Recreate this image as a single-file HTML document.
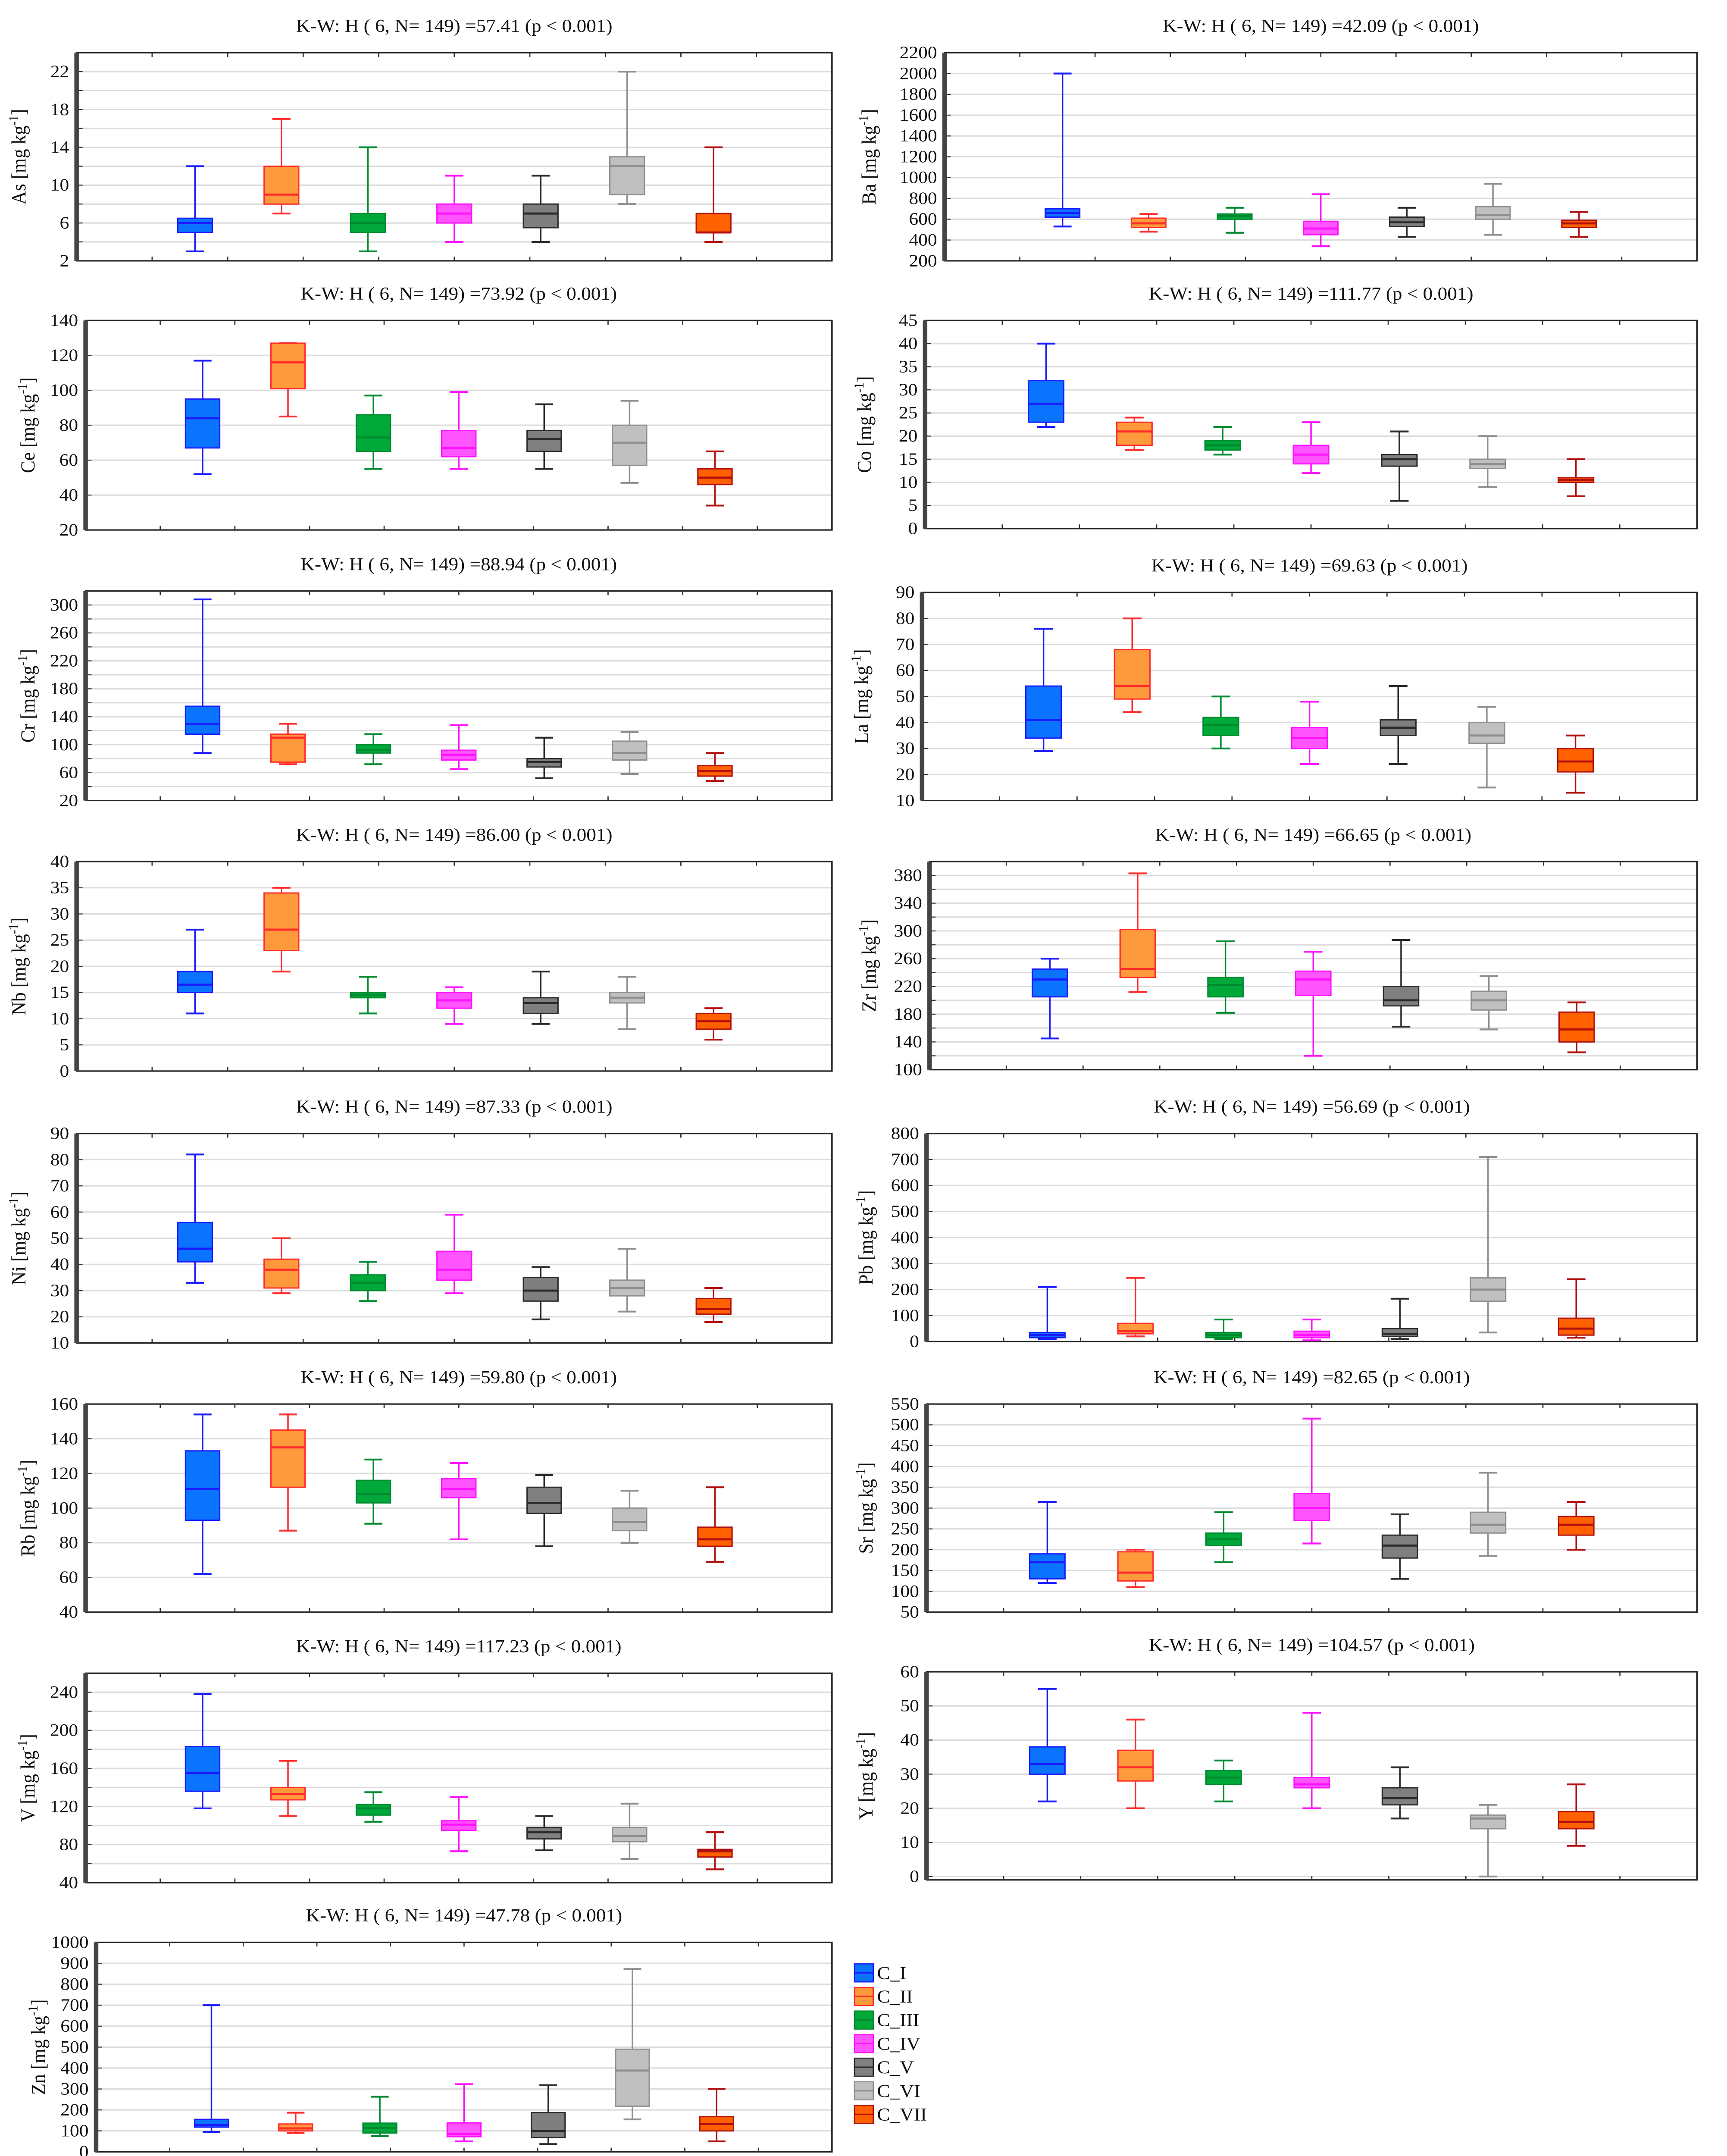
<!DOCTYPE html>
<html><head><meta charset="utf-8"><title>Kruskal-Wallis box plots</title>
<style>
html,body{margin:0;padding:0;background:#fff;width:100vw;height:100vh;overflow:hidden;}
svg{display:block;width:100vw;height:100vh;}
text{font-family:"Liberation Serif",serif;fill:#111;}
</style></head>
<body>
<svg id="fig" xmlns="http://www.w3.org/2000/svg" viewBox="0 0 1150 1554" preserveAspectRatio="none"></svg>
<script>
// ---- data ----
const categories = ["C_I","C_II","C_III","C_IV","C_V","C_VI","C_VII"];
// each entry: [min, q1, median, q3, max]
const asVals = [[3,5,6,6.5,12],[7,8,9,12,17],[3,5,6,7,14],[4,6,7,8,11],[4,5.5,7,8,11],[8,9,12,13,22],[4,5,5,7,14]];
const baVals = [[530,620,660,700,2000],[480,520,560,610,650],[470,600,630,650,710],[340,450,510,580,840],[430,530,570,620,710],[450,600,640,720,940],[430,520,560,590,670]];
const ceVals = [[52,67,84,95,117],[85,101,116,127,127],[55,65,73,86,97],[55,62,67,77,99],[55,65,72,77,92],[47,57,70,80,94],[34,46,50,55,65]];
const coVals = [[22,23,27,32,40],[17,18,21,23,24],[16,17,18,19,22],[12,14,16,18,23],[6,13.5,15,16,21],[9,13,14,15,20],[7,10,10.5,11,15]];
const crVals = [[88,115,130,155,308],[72,75,110,115,130],[72,88,92,100,115],[65,78,85,92,128],[52,68,75,80,110],[58,78,88,105,118],[48,55,62,70,88]];
const laVals = [[29,34,41,54,76],[44,49,54,68,80],[30,35,39,42,50],[24,30,34,38,48],[24,35,38,41,54],[15,32,35,40,46],[13,21,25,30,35]];
const nbVals = [[11,15,16.5,19,27],[19,23,27,34,35],[11,14,14.5,15,18],[9,12,13.5,15,16],[9,11,13,14,19],[8,13,14,15,18],[6,8,9.5,11,12]];
const zrVals = [[145,205,230,245,260],[212,233,245,302,383],[182,205,222,233,285],[120,207,230,242,270],[162,192,200,220,287],[158,186,200,213,235],[125,140,158,183,197]];
const niVals = [[33,41,46,56,82],[29,31,38,42,50],[26,30,33,36,41],[29,34,38,45,59],[19,26,30,35,39],[22,28,31,34,46],[18,21,23,27,31]];
const pbVals = [[10,15,25,35,210],[20,30,40,70,245],[10,15,25,35,85],[5,15,25,40,85],[10,20,30,50,165],[35,155,200,245,710],[15,25,50,90,240]];
const rbVals = [[62,93,111,133,154],[87,112,135,145,154],[91,103,108,116,128],[82,106,111,117,126],[78,97,103,112,119],[80,87,92,100,110],[69,78,82,89,112]];
const srVals = [[120,130,170,190,315],[110,125,145,195,200],[170,210,225,240,290],[215,270,300,335,515],[130,180,210,235,285],[185,240,260,290,385],[200,235,260,280,315]];
const vVals  = [[118,136,155,183,238],[110,127,133,140,168],[104,111,118,122,135],[73,95,101,105,130],[74,86,93,98,110],[65,83,89,98,123],[54,67,73,75,93]];
const yVals  = [[22,30,33,38,55],[20,28,32,37,46],[22,27,29,31,34],[20,26,27,29,48],[17,21,23,26,32],[0,14,17,18,21],[9,14,16,19,27]];
const znVals = [[95,118,128,155,700],[90,100,112,133,187],[75,90,113,137,263],[50,72,85,138,323],[37,68,100,187,318],[155,218,388,490,873],[50,100,133,168,300]];
const elements = ["As","Ba","Ce","Co","Cr","La","Nb","Zr","Ni","Pb","Rb","Sr","V","Y","Zn"];
const hStats = ["57.41","42.09","73.92","111.77","88.94","69.63","86.00","66.65","87.33","56.69","59.80","82.65","117.23","104.57","47.78"];
const allVals = [asVals,baVals,ceVals,coVals,crVals,laVals,nbVals,zrVals,niVals,pbVals,rbVals,srVals,vVals,yVals,znVals];
// axis ranges
const axMin = [2,200,20,0,20,10,0,100,10,0,40,50,40,-1,0];
const axMax = [24,2200,140,45,320,90,40,400,90,800,160,550,260,60,1000];
const gridStep = [2,200,20,5,20,10,5,20,10,100,20,50,20,10,100];
const labelStart = [2,200,20,0,20,10,0,100,10,0,40,50,40,0,0];
const labelStep = [4,200,20,5,40,10,5,40,10,100,20,50,40,10,100];
</script>
<script>
const svg = document.getElementById('fig');
const NS = 'http://www.w3.org/2000/svg';
function mk(tag, attrs, parent){const e=document.createElementNS(NS,tag);for(const k in attrs)e.setAttribute(k,attrs[k]);(parent||svg).appendChild(e);return e;}
const fills = ['#0a74ff','#ff9a3c','#00a83a','#ff55ff','#7f7f7f','#c0c0c0','#ff6000'];
const lines = ['#1a1aff','#ff2a2a','#008a30','#ff10ff','#2a2a2a','#8f8f8f','#b01010'];
const frames = [
 [51,554,38,188],[629,1130,38,188],
 [57,554,231,382],[616,1130,231,381],
 [57,554,426,577],[614,1130,427,577],
 [51,554,621,772],[619,1130,621,771],
 [51,554,817,968],[617,1130,817,967],
 [57,554,1012,1162],[617,1130,1012,1162],
 [57,554,1206,1357],[617,1130,1205,1355],
 [64,554,1400,1551]
];
function fmt(v){return String(Math.round(v*1000)/1000);}
elements.forEach((el,pi)=>{
  const [x0,x1,y0,y1]=frames[pi];
  const lo=axMin[pi], hi=axMax[pi];
  const g = mk('g',{});
  
  
  const yS = v => y1 - (v-lo)/(hi-lo)*(y1-y0);
  const W = x1-x0, sp = W/8.74;
  const xS = i => x0 + sp*1.37 + i*sp;
  const t = mk('text',{x:(x0+x1)/2,y:y0-15,'text-anchor':'middle','font-size':13},g);
  t.textContent = 'K-W: H ( 6, N= 149) ='+hStats[pi]+' (p < 0.001)';
  
  
  const eps=1e-9;
  for(let v=Math.ceil((lo+eps)/gridStep[pi])*gridStep[pi]; v<hi-eps; v+=gridStep[pi]){
    const gl = mk('line',{x1:x0,x2:x1,y1:yS(v),y2:yS(v),stroke:'#dcdcdc','stroke-width':1},g);
    
    
    mk('line',{x1:x0,x2:x0+4,y1:yS(v),y2:yS(v),stroke:'#333','stroke-width':0.7},g);
  }
  for(let v=labelStart[pi]; v<=hi+eps; v+=labelStep[pi]){
    const yl = mk('text',{x:x0-5,y:yS(v)+4,'text-anchor':'end','font-size':12.5},g);
    yl.textContent = fmt(v);
    
    
  }
  const fr = mk('rect',{x:x0,y:y0,width:W,height:y1-y0,fill:'none',stroke:'#222','stroke-width':1},g);
  
  
  mk('line',{x1:x0,x2:x0,y1:y0,y2:y1,stroke:'#444','stroke-width':3},g);
  for(let k=1;k<10;k++){
    const xt = x0 + k*W/10;
    mk('line',{x1:xt,x2:xt,y1:y0,y2:y0+3,stroke:'#333','stroke-width':0.8},g);
    mk('line',{x1:xt,x2:xt,y1:y1,y2:y1-3,stroke:'#333','stroke-width':0.8},g);
  }
  const lx = x0 - (pi%2===1 && pi<14 ? (x0-560>60?46:36) : 34);
  const yt = mk('text',{transform:`translate(${lx},${(y0+y1)/2}) rotate(-90)`,'text-anchor':'middle','font-size':13.5},g);
  
  
  const ts1 = mk('tspan',{},yt); ts1.textContent = el+' [mg kg';
  const ts2 = mk('tspan',{dy:-5,'font-size':9},yt); ts2.textContent = '-1';
  const ts3 = mk('tspan',{dy:5},yt); ts3.textContent = ']';
  const vals = allVals[pi];
  vals.forEach((s,i)=>{
    const cx = xS(i), bw = sp*0.4, cw = sp*0.21;
    const bg = mk('g',{},g);
    
    
    mk('line',{x1:cx,x2:cx,y1:yS(s[0]),y2:yS(s[4]),stroke:lines[i],'stroke-width':1},bg);
    mk('line',{x1:cx-cw/2,x2:cx+cw/2,y1:yS(s[0]),y2:yS(s[0]),stroke:lines[i],'stroke-width':1.3},bg);
    mk('line',{x1:cx-cw/2,x2:cx+cw/2,y1:yS(s[4]),y2:yS(s[4]),stroke:lines[i],'stroke-width':1.3},bg);
    const bt=yS(s[3]), bb=yS(s[1]);
    mk('rect',{x:cx-bw/2,y:bt,width:bw,height:Math.max(bb-bt,1),fill:fills[i],stroke:lines[i],'stroke-width':0.9},bg);
    mk('line',{x1:cx-bw/2,x2:cx+bw/2,y1:yS(s[2]),y2:yS(s[2]),stroke:lines[i],'stroke-width':1.5},bg);
  });
});
const lg = mk('g',{});


categories.forEach((c,i)=>{
  const cy = 1422 + i*17;
  const e = mk('g',{},lg);
  
  
  mk('rect',{x:569,y:cy-6.5,width:12.5,height:13,fill:fills[i],stroke:lines[i],'stroke-width':0.8},e);
  mk('line',{x1:569,x2:581.5,y1:cy,y2:cy,stroke:lines[i],'stroke-width':1},e);
  const lt = mk('text',{x:584,y:cy+4.5,'font-size':13},e);
  lt.textContent = c;
});
</script>
</body></html>
